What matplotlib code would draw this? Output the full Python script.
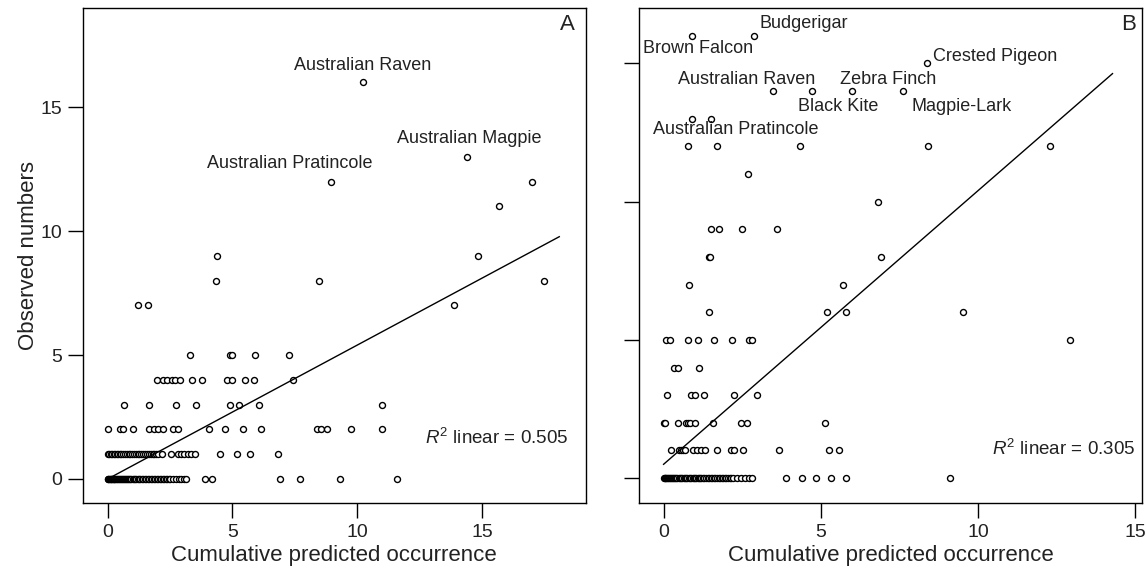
import matplotlib
matplotlib.use("Agg")
import matplotlib.pyplot as plt
import numpy as np

plt.rcParams['font.family'] = ['Liberation Sans', 'DejaVu Sans']
plt.rcParams['mathtext.fontset'] = 'custom'
plt.rcParams['mathtext.rm'] = 'Liberation Sans'
plt.rcParams['mathtext.it'] = 'Liberation Sans:italic'

# ---------------- Panel A data (predicted, observed) ----------------
a_pred = (
    [10.23] +
    [14.4] +
    [8.96, 17.0] +
    [15.7] +
    [4.39, 14.85] +
    [4.33, 8.48, 17.5] +
    [1.23, 1.6, 13.9] +
    [3.3, 4.9, 5.0, 5.9, 7.27] +
    [1.96, 2.2, 2.36, 2.56, 2.7, 2.9, 3.39, 3.77, 4.77, 5.0, 5.5, 5.88, 7.44] +
    [0.67, 1.66, 2.74, 3.54, 4.9, 5.27, 6.06, 10.98] +
    [0.02, 0.5, 0.6, 1.0, 1.67, 1.86, 2.03, 2.2, 2.63, 2.8, 4.07, 4.7, 5.43,
     6.14, 8.38, 8.54, 8.78, 9.74, 11.0] +
    [0.0, 0.06, 0.12, 0.18, 0.24, 0.3, 0.36, 0.42, 0.48, 0.54, 0.62, 0.7,
     0.76, 0.84, 0.9, 0.98, 1.05, 1.12, 1.2, 1.27, 1.34, 1.42, 1.5, 1.57,
     1.64, 1.72, 1.8, 1.87, 1.95, 2.0, 2.16, 2.52, 2.8, 2.92, 3.05, 3.2,
     3.35, 3.5, 4.5, 5.17, 5.7, 6.81] +
    [0.0, 0.03, 0.06, 0.09, 0.12, 0.15, 0.18, 0.21, 0.24, 0.27, 0.3, 0.34,
     0.38, 0.42, 0.46, 0.5, 0.54, 0.58, 0.62, 0.66, 0.7, 0.74, 0.78, 0.82,
     0.86, 0.9, 0.95, 1.0, 1.05, 1.1, 1.15, 1.2, 1.25, 1.3, 1.36, 1.42,
     1.48, 1.54, 1.6, 1.66, 1.72, 1.78, 1.84, 1.9, 1.96, 2.02, 2.08, 2.14,
     2.2, 2.26, 2.32, 2.38, 2.44, 2.5, 2.62, 2.74, 2.84, 2.94, 3.05, 3.15,
     3.9, 4.2, 6.9, 7.7, 9.3, 11.6]
)
a_obs = (
    [16] + [13] + [12, 12] + [11] + [9, 9] + [8, 8, 8] + [7, 7, 7] +
    [5] * 5 + [4] * 13 + [3] * 8 + [2] * 19 + [1] * 42 + [0] * 66
)
a_fit_x = [0.0, 18.1]
a_fit_intercept = 0.0
a_fit_slope = 0.54

# ---------------- Panel B data ----------------
b_pred = (
    [0.9, 2.86] +
    [8.37] +
    [3.49, 4.72, 5.99, 7.6] +
    [0.9, 1.5] +
    [0.77, 1.69, 4.33, 8.42, 12.28] +
    [2.69] +
    [6.81] +
    [1.51, 1.75, 2.48, 3.62] +
    [1.44, 1.48, 6.9] +
    [0.8, 5.71] +
    [1.43, 5.2, 5.8, 9.52] +
    [0.08, 0.19, 0.77, 1.1, 1.59, 2.19, 2.72, 2.8, 12.93] +
    [0.33, 0.45, 1.12] +
    [0.12, 0.88, 1.01, 1.3, 2.25, 2.98] +
    [0.01, 0.05, 0.45, 0.72, 0.79, 0.85, 1.01, 1.56, 2.46, 2.65, 5.13] +
    [0.24, 0.5, 0.55, 0.61, 0.67, 0.93, 1.05, 1.19, 1.32, 1.69, 2.14, 2.25,
     2.51, 3.67, 5.27, 5.59] +
    [0.0, 0.03, 0.06, 0.09, 0.12, 0.15, 0.18, 0.21, 0.24, 0.27, 0.3, 0.33,
     0.36, 0.4, 0.44, 0.48, 0.52, 0.56, 0.6, 0.64, 0.68, 0.72, 0.76, 0.8,
     0.84, 0.88, 0.92, 0.96, 1.0, 1.04, 1.08, 1.12, 1.16, 1.2, 1.25, 1.3,
     1.35, 1.4, 1.45, 1.5, 1.55, 1.6, 1.65, 1.7, 1.75, 1.8, 1.85, 1.9,
     1.95, 2.0, 2.05, 2.1, 2.15, 2.22, 2.34, 2.45, 2.58, 2.7, 2.8,
     3.88, 4.39, 4.83, 5.31, 5.81, 9.1]
)
b_obs = (
    [16, 16] + [15] + [14] * 4 + [13] * 2 + [12] * 5 + [11] + [10] +
    [9] * 4 + [8] * 3 + [7] * 2 + [6] * 4 + [5] * 9 + [4] * 3 + [3] * 6 +
    [2] * 11 + [1] * 16 + [0] * 65
)
b_fit_x = [0.0, 14.27]
b_fit_intercept = 0.5
b_fit_slope = 0.99

ticks = [0, 5, 10, 15]
a_r2 = "0.505"
b_r2 = "0.305"

a_labels = ["Australian Raven", "Australian Magpie", "Australian Pratincole"]
b_labels = ["Budgerigar", "Brown Falcon", "Crested Pigeon", "Australian Raven",
            "Zebra Finch", "Black Kite", "Magpie-Lark", "Australian Pratincole"]

# ---------------- Figure ----------------
fig = plt.figure(figsize=(11.46, 5.76), dpi=100)
axA = fig.add_axes([0.0722, 0.1267, 0.4389, 0.8594])
axB = fig.add_axes([0.5579, 0.1267, 0.4384, 0.8594])

mk = dict(linestyle='none', marker='o', markersize=4.3, markerfacecolor='white',
          markeredgecolor='black', markeredgewidth=1.0)

txt_col = '#222222'

def style(ax):
    for s in ax.spines.values():
        s.set_linewidth(1.0)
    ax.tick_params(direction='out', length=11, width=1.0, labelsize=14, pad=4,
                   labelcolor=txt_col)
    ax.set_xticks(ticks)
    ax.set_yticks(ticks)
    ax.set_xlabel("Cumulative predicted occurrence", fontsize=16, color=txt_col, labelpad=3)

# Panel A
axA.plot(a_pred, a_obs, **mk)
fx = np.array(a_fit_x)
axA.plot(fx, a_fit_intercept + a_fit_slope * fx, color='black', lw=1.0)
axA.set_xlim(-1.0, 19.16)
axA.set_ylim(-0.97, 19.0)
style(axA)
axA.set_ylabel("Observed numbers", fontsize=16, color=txt_col, labelpad=1)
lab_fs = 13
a_pos = [(10.23, 16.49), (14.49, 13.55), (7.31, 12.54)]
for t, (x, y) in zip(a_labels, a_pos):
    axA.text(x, y, t, ha='center', va='baseline', fontsize=lab_fs, color=txt_col)
axA.text(18.45, 1.41, r"$R^2$ linear = " + a_r2, ha='right', va='baseline',
         fontsize=13.5, color=txt_col)
axA.text(0.963, 0.966, "A", transform=axA.transAxes, ha='center', va='center',
         fontsize=16, color=txt_col)

# Panel B
axB.plot(b_pred, b_obs, **mk)
fx = np.array(b_fit_x)
axB.plot(fx, b_fit_intercept + b_fit_slope * fx, color='black', lw=1.0)
axB.set_xlim(-0.77, 15.2)
axB.set_ylim(-0.9, 17.0)
style(axB)
axB.tick_params(axis='y', labelleft=False)
b_pos = [(3.04, 16.27), (-0.655, 15.39), (8.58, 15.09), (0.443, 14.25),
         (5.62, 14.25), (4.28, 13.29), (7.89, 13.29), (-0.34, 12.44)]
for t, (x, y) in zip(b_labels, b_pos):
    axB.text(x, y, t, ha='left', va='baseline', fontsize=lab_fs, color=txt_col)
axB.text(15.0, 0.83, r"$R^2$ linear = " + b_r2, ha='right', va='baseline',
         fontsize=13.5, color=txt_col)
axB.text(0.973, 0.966, "B", transform=axB.transAxes, ha='center', va='center',
         fontsize=16, color=txt_col)

fig.savefig("out.png", dpi=100)
